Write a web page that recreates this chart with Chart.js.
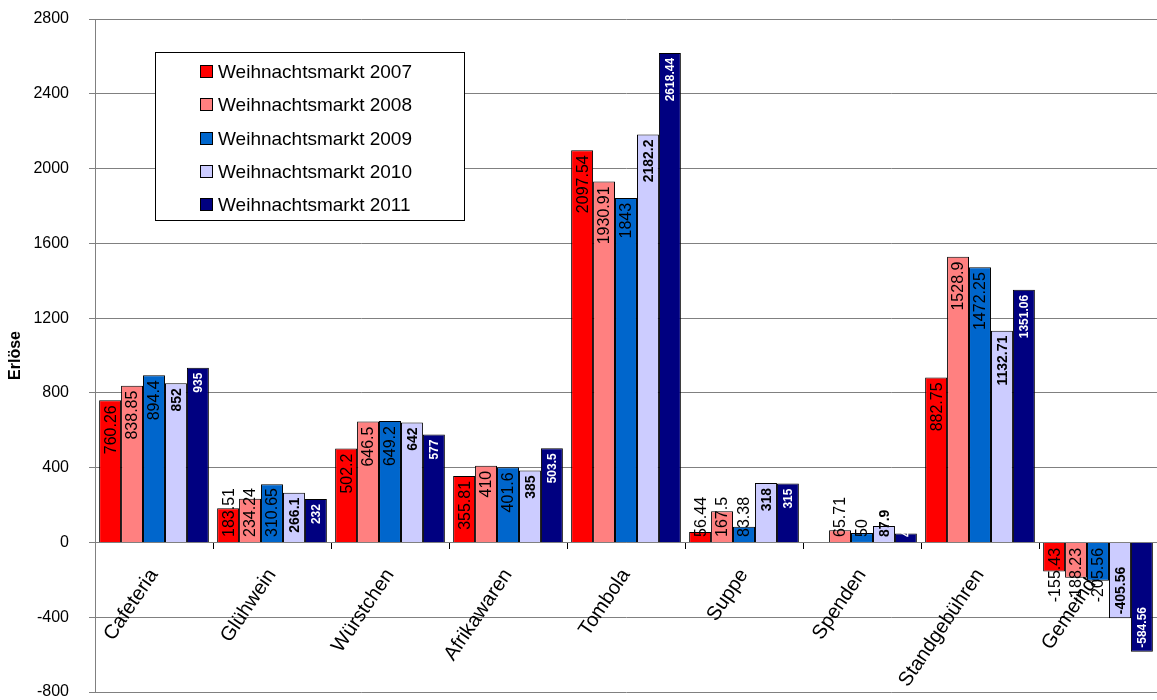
<!DOCTYPE html>
<html>
<head>
<meta charset="utf-8">
<script src="https://cdn.jsdelivr.net/npm/chart.js@4.4.0/dist/chart.umd.min.js"></script>
<style>
  html, body { margin:0; padding:0; background:#fff; overflow:hidden; }
  #wrap { width:1157px; height:700px; position:relative; }
</style>
</head>
<body>
<div id="wrap"><canvas id="chart"></canvas></div>
<script>
// data
const categories = ['Cafeteria','Glühwein','Würstchen','Afrikawaren','Tombola','Suppe','Spenden','Standgebühren','Gemeinde'];
const seriesNames = ['Weihnachtsmarkt 2007','Weihnachtsmarkt 2008','Weihnachtsmarkt 2009','Weihnachtsmarkt 2010','Weihnachtsmarkt 2011'];
const values2007 = [760.26, 183.51, 502.2, 355.81, 2097.54, 56.44, null, 882.75, -155.43];
const values2008 = [838.85, 234.24, 646.5, 410, 1930.91, 167.5, 65.71, 1528.9, -188.23];
const values2009 = [894.4, 310.65, 649.2, 401.6, 1843, 83.38, 50, 1472.25, -205.56];
const values2010 = [852, 266.1, 642, 385, 2182.2, 318, 87.9, 1132.71, -405.56];
const values2011 = [935, 232, 577, 503.5, 2618.44, 315, 48, 1351.06, -584.56];
const yMin = -800, yMax = 2800, yStep = 400;
const yTitle = 'Erlöse';

/* ---- styling ---- */
const FONT = '"Liberation Sans", Arial, sans-serif';
const colors = ['#ff0000','#ff8080','#0066cc','#ccccff','#000080'];
const labelStyles = [
  { font: '16px ' + FONT, color: '#000' },
  { font: '16px ' + FONT, color: '#000' },
  { font: '16px ' + FONT, color: '#000' },
  { font: 'bold 14px ' + FONT, color: '#000' },
  { font: 'bold 12px ' + FONT, color: '#fff' }
];

// value labels, rotated, inside the bar end (pushed toward the base when too long)
const valueLabels = {
  id: 'valueLabels',
  afterDatasetsDraw(chart){
    const ctx = chart.ctx;
    chart.data.datasets.forEach((ds, di) => {
      const meta = chart.getDatasetMeta(di);
      const st = labelStyles[di];
      meta.data.forEach((bar, i) => {
        const v = ds.data[i];
        if (v === null || v === undefined) return;
        const txt = String(v);
        ctx.save();
        ctx.font = st.font;
        ctx.fillStyle = st.color;
        const L = ctx.measureText(txt).width;
        let bottom;
        if (v >= 0) {
          const top = bar.y + 5;
          bottom = top + L;
          if (bottom > bar.base - 5) bottom = bar.base - 5;
        } else {
          bottom = bar.y - 4;
          let top = bottom - L;
          if (top < bar.base + 5) { top = bar.base + 5; bottom = top + L; }
        }
        ctx.translate(bar.x, bottom);
        ctx.rotate(-Math.PI / 2);
        ctx.textAlign = 'left';
        ctx.textBaseline = 'middle';
        ctx.fillText(txt, 0, 1);
        ctx.restore();
      });
    });
  }
};

// boxed legend sitting inside the plot
const boxLegend = {
  id: 'boxLegend',
  afterDraw(chart){
    const ctx = chart.ctx;
    ctx.save();
    ctx.fillStyle = '#fff';
    ctx.strokeStyle = '#000';
    ctx.lineWidth = 1;
    ctx.fillRect(155.5, 52.5, 309, 168);
    ctx.strokeRect(155.5, 52.5, 309, 168);
    ctx.font = '19px ' + FONT;
    ctx.textBaseline = 'middle';
    ctx.textAlign = 'left';
    chart.data.datasets.forEach((ds, i) => {
      const y = Math.round(72 + i * 33.3);
      ctx.fillStyle = ds.backgroundColor;
      ctx.fillRect(200.5, y - 6.5, 12, 12);
      ctx.strokeRect(200.5, y - 6.5, 12, 12);
      ctx.fillStyle = '#000';
      ctx.fillText(ds.label, 218, y + 1);
    });
    ctx.restore();
  }
};

const allValues = [values2007, values2008, values2009, values2010, values2011];
const datasets = allValues.map((vals, i) => ({
  label: seriesNames[i],
  data: vals,
  backgroundColor: colors[i],
  borderColor: '#000',
  borderWidth: 1,
  categoryPercentage: 0.93,
  barPercentage: 1.0
}));

new Chart(document.getElementById('chart').getContext('2d'), {
  type: 'bar',
  data: { labels: categories, datasets: datasets },
  options: {
    responsive: true,
    maintainAspectRatio: false,
    animation: false,
    layout: { padding: { top: 19, bottom: 8, left: 0, right: 0 } },
    plugins: { legend: { display: false }, tooltip: { enabled: false } },
    scales: {
      x: {
        position: { y: 0 },
        grid: { display: true, drawOnChartArea: false, drawTicks: true, tickLength: 6, color: '#000', offset: true },
        border: { display: true, color: '#808080' },
        ticks: {
          autoSkip: false, minRotation: 56, maxRotation: 56, padding: 16,
          color: '#000', font: { family: FONT, size: 20 }
        }
      },
      y: {
        min: yMin, max: yMax,
        afterFit(scale){
          scale.width = 95;
          // keep the plot edges from the layout padding only
          scale.paddingTop = 0;
          scale.paddingBottom = 0;
        },
        grid: { color: '#808080', lineWidth: 1, tickLength: 6 },
        border: { color: '#808080' },
        title: { display: true, text: yTitle, color: '#000', font: { family: FONT, size: 16, weight: 'bold' }, padding: { top: 6, bottom: 0 } },
        ticks: {
          stepSize: yStep, padding: 20, color: '#000',
          font: { family: FONT, size: 16 },
          callback: v => String(v)
        }
      }
    }
  },
  plugins: [valueLabels, boxLegend]
});
</script>
</body>
</html>
